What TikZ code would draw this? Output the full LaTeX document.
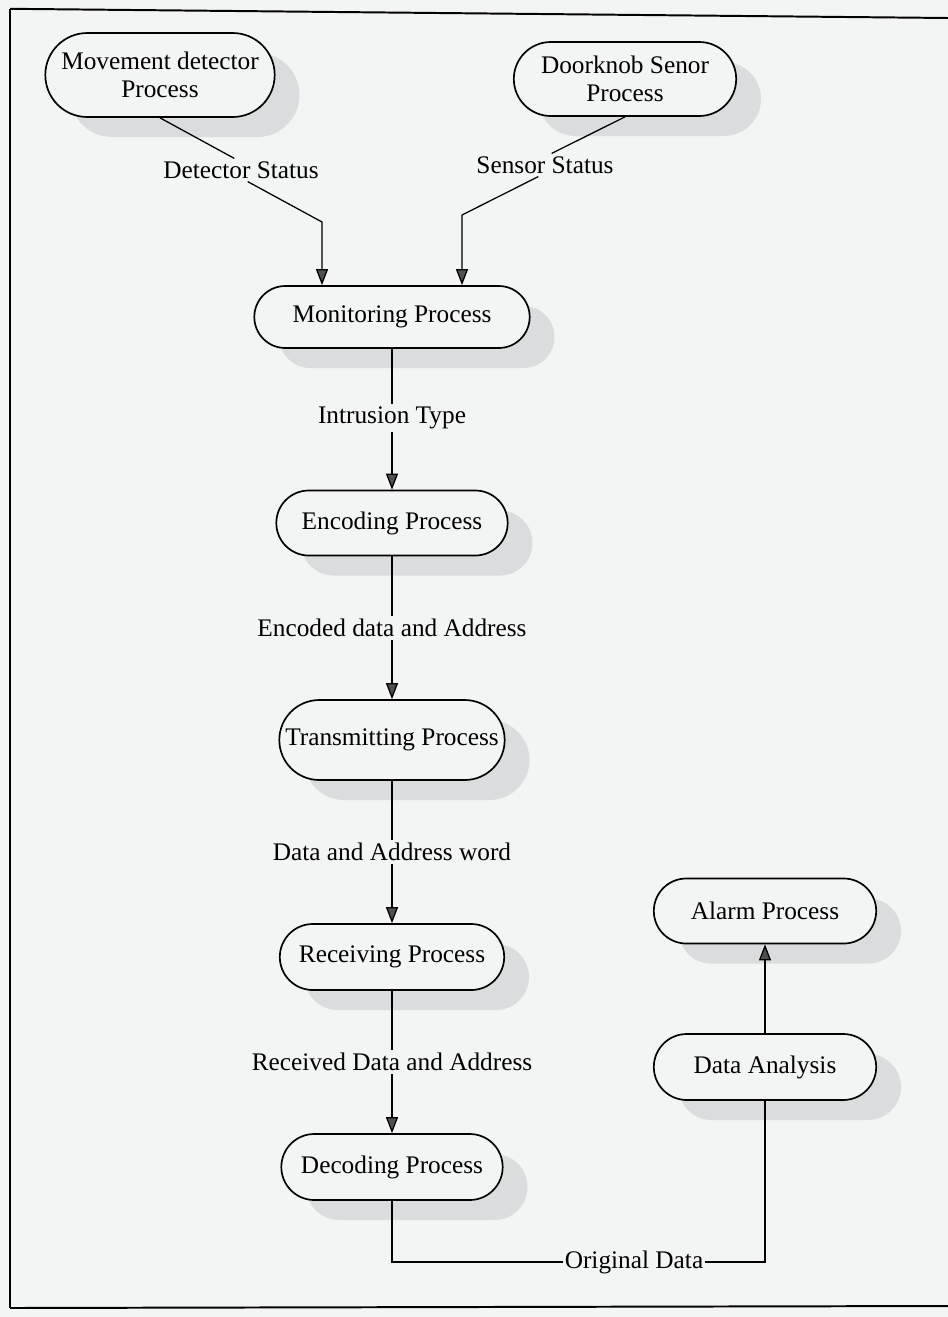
\documentclass[tikz,border=0pt]{standalone}
\usepackage{fontspec}
\setmainfont{Liberation Serif}
\usetikzlibrary{arrows.meta,calc,positioning,shapes.misc,shadows}
\definecolor{scanbg}{RGB}{243,244,244}
\definecolor{shadegray}{RGB}{219,220,221}
\definecolor{tipgray}{RGB}{80,80,80}

\begin{document}
\begin{tikzpicture}[
  font=\rmfamily\fontsize{18}{20}\selectfont,
  arrow/.style={-{Triangle[length=4mm,width=3mm,fill=tipgray]}, line width=0.9pt},
  flow/.style={line width=0.9pt},
  proc/.style={rounded rectangle, draw, line width=1.2pt, fill=scanbg, align=center, inner sep=2pt,
    drop shadow={shadow xshift=0.62cm, shadow yshift=-0.5cm, fill=shadegray, opacity=1}},
  flowlabel/.style={fill=scanbg, inner sep=2pt, align=center},
  frame/.style={line width=1.4pt}
]

% Page and frame
\fill[scanbg] (0,0) rectangle (23.7,-32.925);
\useasboundingbox (0,0) rectangle (23.7,-32.925);
\draw[frame] (0.25,-0.22) -- (23.7,-0.45);
\draw[line width=0.8pt] (0.25,-0.22) -- (0.25,-32.7);
\draw[frame] (0.25,-32.7) -- (23.7,-32.65);

% Processes
\node[proc, minimum width=5.875cm, minimum height=2.1cm] (mov) at (4.00,-1.875) {Movement detector\\Process};
\node[proc, minimum width=5.7cm, minimum height=1.85cm] (door) at (15.625,-1.975) {Doorknob Senor\\Process};
\node[proc, minimum width=7.025cm, minimum height=1.55cm] (mon) at (9.8,-7.925) {Monitoring Process};
\node[proc, minimum width=5.925cm, minimum height=1.625cm] (enc) at (9.8,-13.075) {Encoding Process};
\node[proc, minimum width=5.775cm, minimum height=2.0cm] (trans) at (9.8,-18.5) {Transmitting Process};
\node[proc, minimum width=5.75cm, minimum height=1.65cm] (rec) at (9.8,-23.925) {Receiving Process};
\node[proc, minimum width=5.675cm, minimum height=1.65cm] (dec) at (9.8,-29.175) {Decoding Process};
\node[proc, minimum width=5.7cm, minimum height=1.625cm] (alarm) at (19.125,-22.775) {Alarm Process};
\node[proc, minimum width=5.7cm, minimum height=1.65cm] (ana) at (19.125,-26.675) {Data Analysis};

% Flow labels
\node[flowlabel] (dstat) at (6.025,-4.25) {Detector Status};
\node[flowlabel] (sstat) at (13.625,-4.125) {Sensor Status};
\node[flowlabel] (itype) at (9.8,-10.45) {Intrusion Type};
\node[flowlabel] (encd) at (9.8,-15.7) {Encoded data and Address};
\node[flowlabel] (daw) at (9.8,-21.3) {Data and Address word};
\node[flowlabel] (recd) at (9.8,-26.55) {Received Data and Address};
\node[flowlabel, inner sep=1pt] (orig) at (15.85,-31.55) {Original Data};

% Bends
\coordinate (dbend) at (8.05,-5.55);
\coordinate (sbend) at (11.55,-5.375);

% Sensors into monitoring
\draw[flow] (mov.south) -- (dstat.120);
\draw[arrow] (dstat.-60) -- (dbend) -- (dbend |- mon.north);
\draw[flow] (door.south) -- (sstat.60);
\draw[arrow] (sstat.-120) -- (sbend) -- (sbend |- mon.north);

% Main chain
\draw[flow] (mon.south) -- (itype.north);
\draw[arrow] (itype.south) -- (enc.north);
\draw[flow] (enc.south) -- (encd.north);
\draw[arrow] (encd.south) -- (trans.north);
\draw[flow] (trans.south) -- (daw.north);
\draw[arrow] (daw.south) -- (rec.north);
\draw[flow] (rec.south) -- (recd.north);
\draw[arrow] (recd.south) -- (dec.north);

% Back to analysis
\draw[flow] (dec.south) |- (orig.west);
\draw[flow] (orig.east) -| (ana.south);
\draw[arrow] (ana.north) -- (alarm.south);

\end{tikzpicture}
\end{document}
